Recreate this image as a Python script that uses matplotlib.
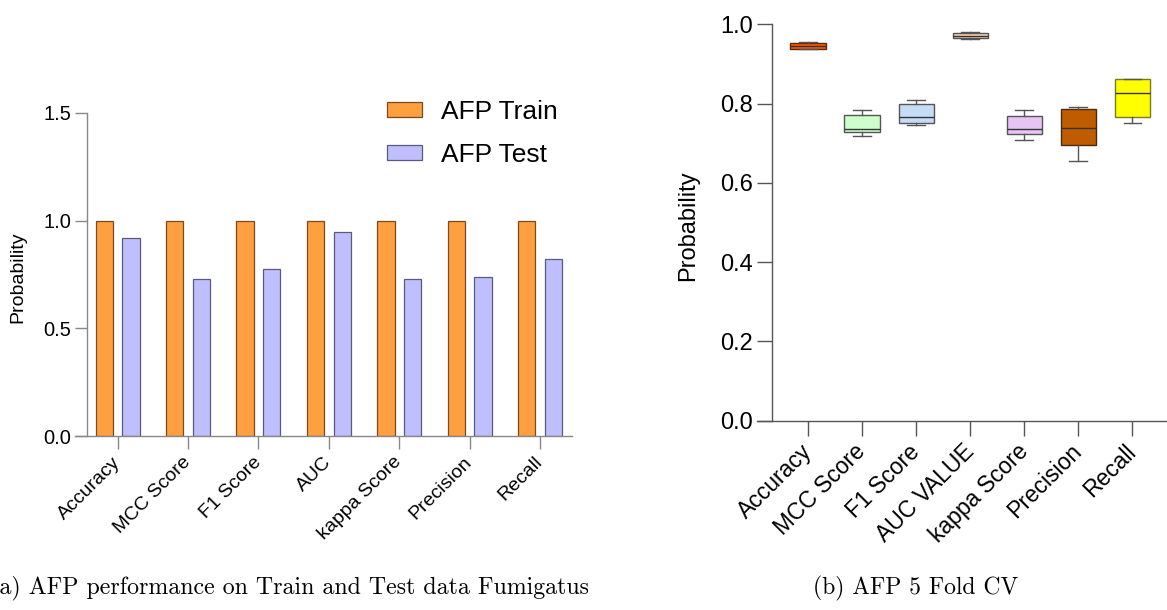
import matplotlib
matplotlib.use("Agg")
import matplotlib.pyplot as plt
import numpy as np

# DANE: lewy panel - wyniki na zbiorze treningowym i testowym
metryki_a = ["Accuracy", "MCC Score", "F1 Score", "AUC", "kappa Score", "Precision", "Recall"]
train = [1.0, 1.0, 1.0, 1.0, 1.0, 1.0, 1.0]
test = [0.918, 0.728, 0.776, 0.949, 0.728, 0.737, 0.821]

# DANE: prawy panel - 5-krotna walidacja krzyzowa (min, Q1, mediana, Q3, max)
metryki_b = ["Accuracy", "MCC Score", "F1 Score", "AUC VALUE", "kappa Score", "Precision", "Recall"]
cv_min = [0.937, 0.718, 0.746, 0.964, 0.709, 0.655, 0.750]
cv_q1 = [0.938, 0.727, 0.752, 0.965, 0.722, 0.696, 0.765]
cv_med = [0.945, 0.736, 0.767, 0.971, 0.735, 0.738, 0.826]
cv_q3 = [0.953, 0.770, 0.800, 0.978, 0.768, 0.786, 0.861]
cv_max = [0.955, 0.784, 0.809, 0.981, 0.783, 0.791, 0.863]
kolory_b = ["#FF5A00", "#CCFFCC", "#C6DBF5", "#FBD4B5", "#E8C4F4", "#C05C00", "#FFFF00"]
krawedzie_b = ["#5A2A10", "#555555", "#555555", "#555555", "#555555", "#4A2A10", "#7A7A20"]

plt.rcParams["font.family"] = ["Liberation Sans", "DejaVu Sans"]

W, H = 1167, 610
fig = plt.figure(figsize=(W / 100, H / 100), dpi=100)

# ---------------- panel (a): wykres slupkowy ----------------
ax1 = fig.add_axes([75 / W, (H - 436) / H, (571.7 - 75) / W, 323 / H])
x = np.arange(len(metryki_a))
szer = 0.245
ax1.bar(x - 0.19, train, szer, color="#FFA040", edgecolor="#7A4A1A", linewidth=0.9, label="AFP Train")
ax1.bar(x + 0.19, test, szer, color="#BFBFFF", edgecolor="#5A5A7A", linewidth=0.9, label="AFP Test")

ax1.set_xlim(-0.607, 6.45)
ax1.set_ylim(0, 1.5)
ax1.set_yticks([0, 0.5, 1.0, 1.5])
ax1.set_yticklabels(["0.0", "0.5", "1.0", "1.5"])
ax1.set_xticks(x)
ax1.set_xticklabels(metryki_a, rotation=45, ha="right", va="center", rotation_mode="anchor", fontsize=14)
ax1.spines["top"].set_visible(False)
ax1.spines["right"].set_visible(False)
ax1.spines["left"].set_position(("data", -0.44))
for s in ["left", "bottom"]:
    ax1.spines[s].set_color("#888888")
    ax1.spines[s].set_linewidth(1.0)
ax1.tick_params(axis="y", length=8.4, width=1.0, color="#888888", labelsize=14.5, pad=3)
ax1.tick_params(axis="x", length=9, width=1.0, color="#888888", pad=8)
ax1.set_ylabel("Probability", fontsize=14)
ax1.yaxis.set_label_coords(26 / W, (H - 277) / H, transform=fig.transFigure)

ax1.legend(loc="upper left", bbox_to_anchor=(387 / W, (H - 100) / H), bbox_transform=fig.transFigure,
           frameon=False, fontsize=19, handlelength=1.33, handleheight=0.5,
           handletextpad=0.72, labelspacing=0.72, borderpad=0, borderaxespad=0)

# ---------------- panel (b): wykres pudelkowy ----------------
ax2 = fig.add_axes([756.7 / W, (H - 420.5) / H, (W - 756.7) / W, 396.2 / H])
statystyki = []
for i in range(len(metryki_b)):
    statystyki.append({"whislo": cv_min[i], "q1": cv_q1[i], "med": cv_med[i],
                       "q3": cv_q3[i], "whishi": cv_max[i], "fliers": []})
bp = ax2.bxp(statystyki, positions=np.arange(len(metryki_b)), widths=0.66, patch_artist=True,
             showfliers=False, capwidths=0.33,
             boxprops=dict(linewidth=1.0),
             medianprops=dict(color="#333333", linewidth=1.0),
             whiskerprops=dict(color="#555555", linewidth=1.0),
             capprops=dict(color="#555555", linewidth=1.0))
for box, kol, kr in zip(bp["boxes"], kolory_b, krawedzie_b):
    box.set_facecolor(kol)
    box.set_edgecolor(kr)

ax2.set_xlim(-0.955, 6.64)
ax2.set_ylim(0, 1.0)
ax2.set_yticks([0, 0.2, 0.4, 0.6, 0.8, 1.0])
ax2.set_yticklabels(["0.0", "0.2", "0.4", "0.6", "0.8", "1.0"])
ax2.set_xticks(np.arange(len(metryki_b)))
ax2.set_xticklabels(metryki_b, rotation=45, ha="right", va="center", rotation_mode="anchor", fontsize=16.5)
ax2.spines["top"].set_visible(False)
ax2.spines["right"].set_visible(False)
ax2.spines["left"].set_position(("data", -0.672))
for s in ["left", "bottom"]:
    ax2.spines[s].set_color("#555555")
    ax2.spines[s].set_linewidth(1.0)
ax2.tick_params(axis="y", length=10.8, width=1.0, color="#555555", labelsize=17, pad=3)
ax2.tick_params(axis="x", length=11, width=1.0, color="#555555", pad=9)
ax2.set_ylabel("Probability", fontsize=17)
ax2.yaxis.set_label_coords(699 / W, (H - 226) / H, transform=fig.transFigure)

# ---------------- podpisy (LaTeX-owe) ----------------
fig.text(289 / W, (H - 588) / H, "(a) AFP performance on Train and Test data Fumigatus",
         family="cmr10", fontsize=17.2, ha="center", va="center")
fig.text(916 / W, (H - 588) / H, "(b) AFP 5 Fold CV",
         family="cmr10", fontsize=17, ha="center", va="center")

fig.savefig("out.png", dpi=100)
